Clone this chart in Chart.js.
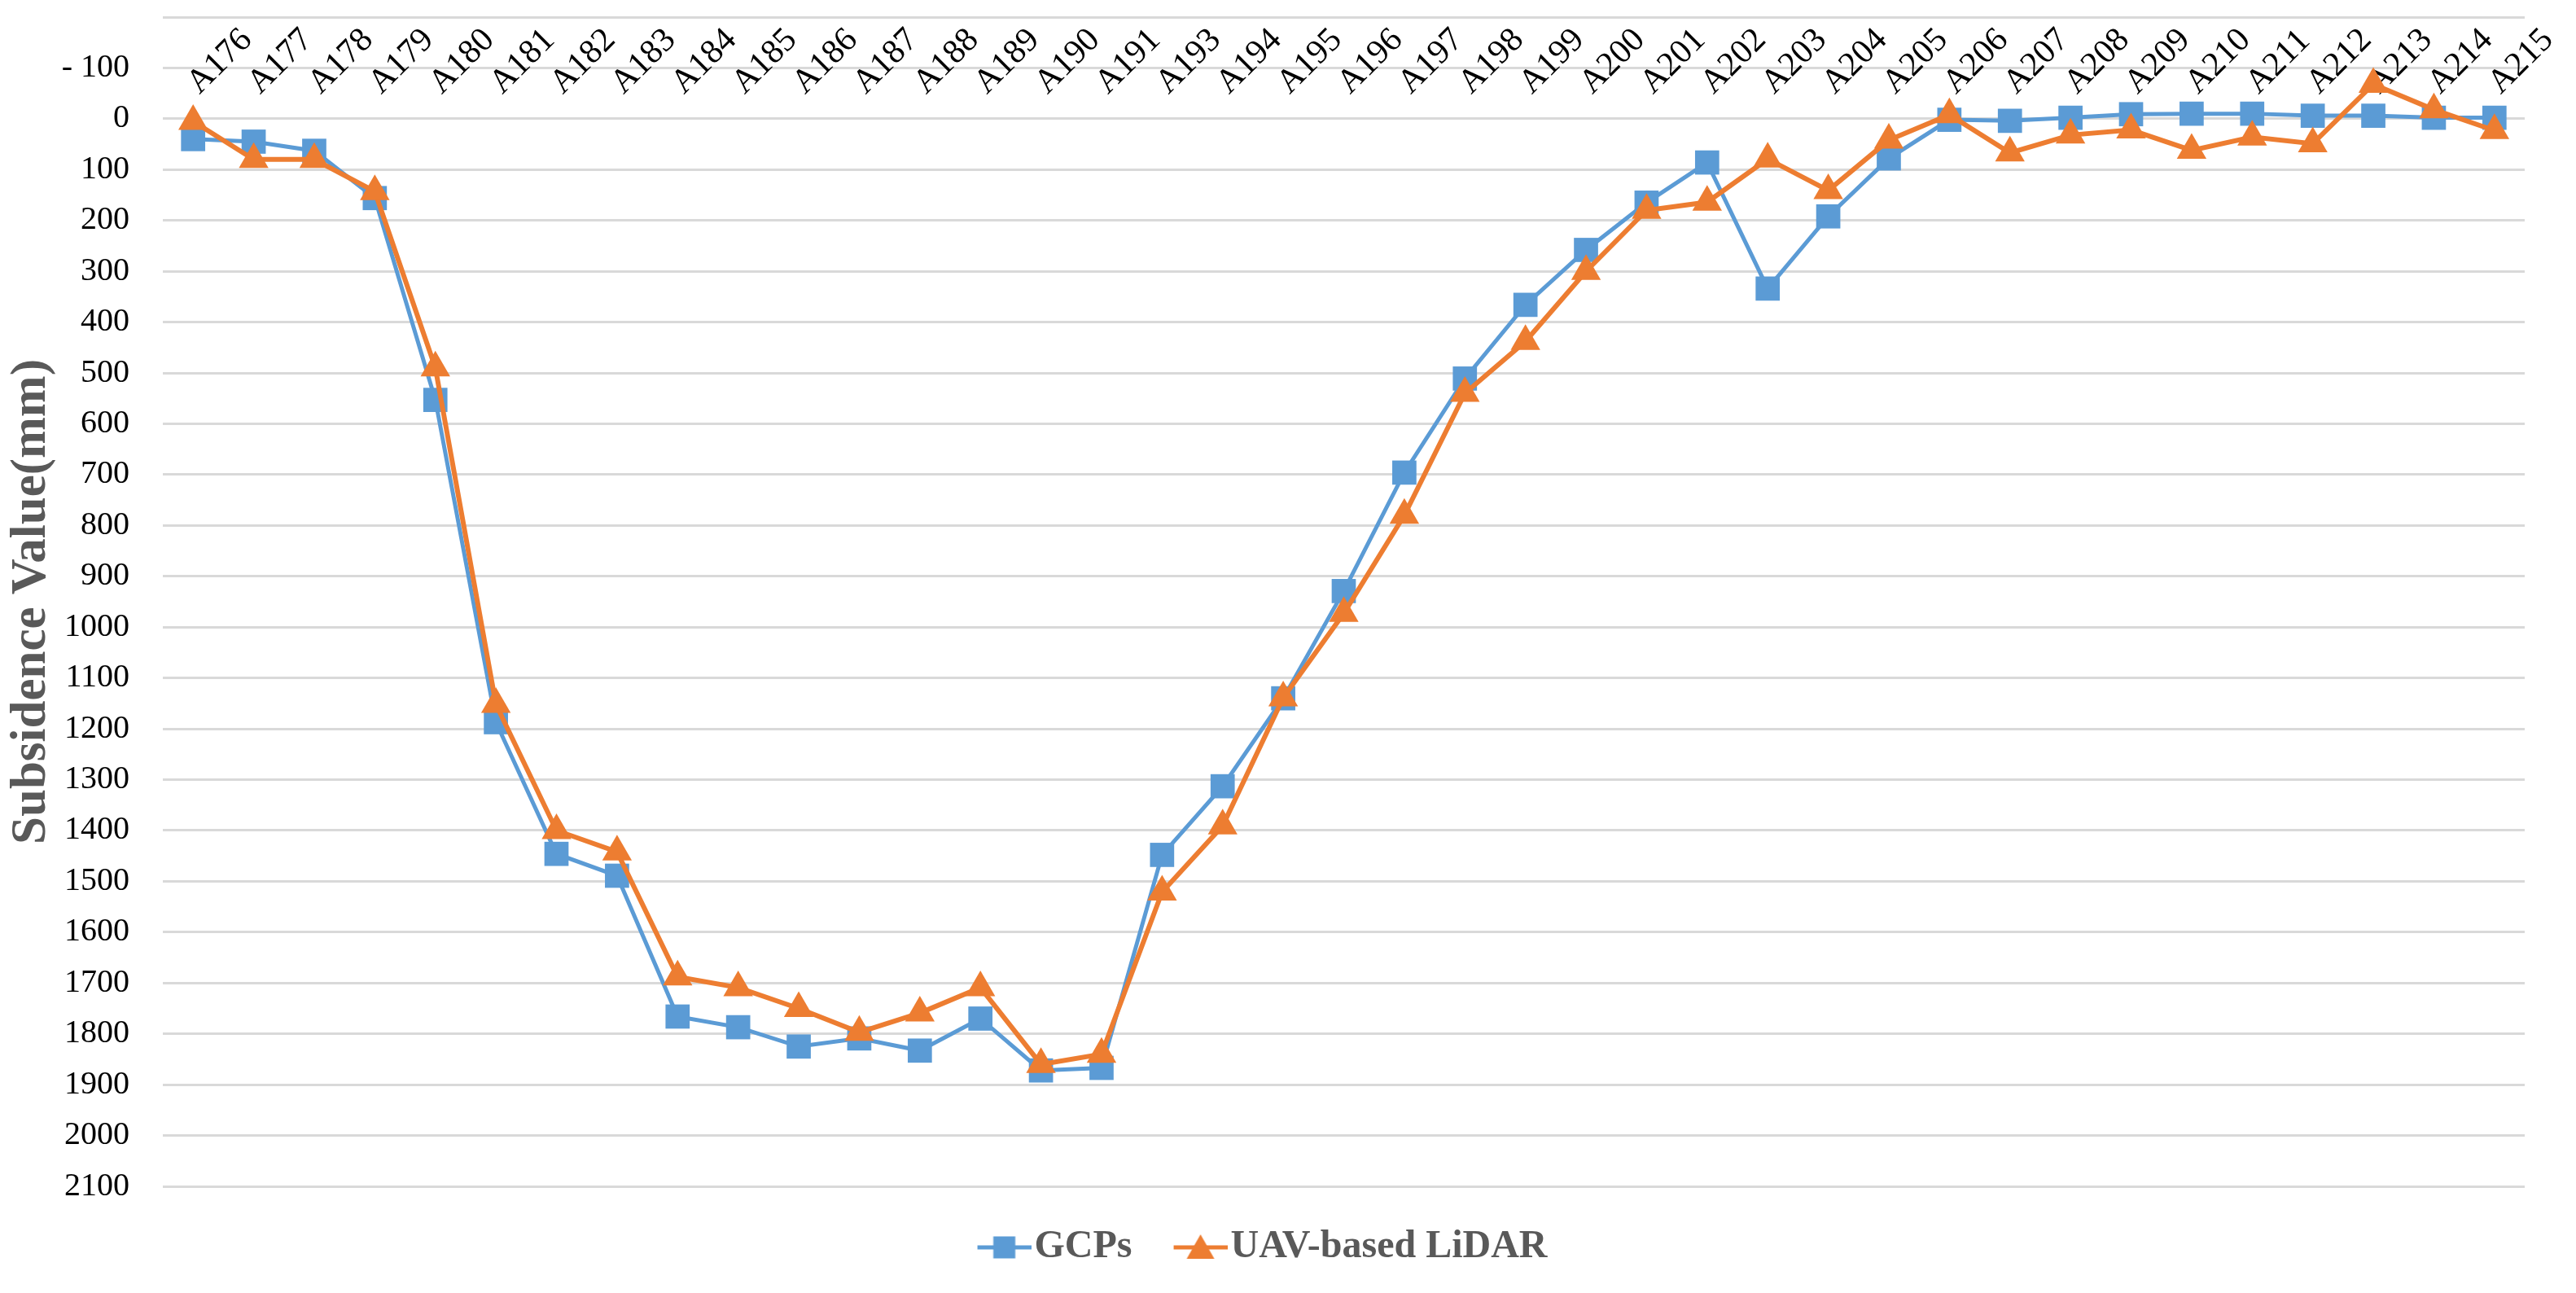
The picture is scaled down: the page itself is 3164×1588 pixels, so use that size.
<!DOCTYPE html>
<html>
<head>
<meta charset="utf-8">
<script src="https://cdn.jsdelivr.net/npm/chart.js@4.4.0/dist/chart.umd.min.js"></script>
<style>
  html, body { margin: 0; padding: 0; background: #ffffff; }
  #wrap { width: 3164px; height: 1588px; position: relative; background: #ffffff; }
</style>
</head>
<body>
<div id="wrap"><canvas id="c"></canvas></div>
<script>
// ---- data ----
const categories = [
  'A176','A177','A178','A179','A180','A181','A182','A183','A184','A185','A186','A187',
  'A188','A189','A190','A191','A193','A194','A195','A196','A197','A198','A199','A200',
  'A201','A202','A203','A204','A205','A206','A207','A208','A209','A210','A211','A212',
  'A213','A214','A215'
];
const gcpValues = [
  40, 45, 63, 156, 553, 1187, 1446, 1489, 1766, 1787, 1825, 1809,
  1833, 1770, 1872, 1867, 1448, 1313, 1140, 929, 696, 511, 366, 258,
  165, 86, 334, 192, 78, 2, 4, -2, -9, -10, -10, -6,
  -6, -2, -2
];
const lidarValues = [
  5, 80, 80, 143, 490, 1152, 1400, 1442, 1688, 1709, 1750, 1797,
  1759, 1709, 1860, 1840, 1521, 1391, 1139, 973, 780, 540, 438, 300,
  180, 164, 79, 141, 42, -8, 67, 32, 22, 62, 36, 49,
  -68, -18, 23
];
const seriesNames = ['GCPs', 'UAV-based LiDAR'];
const yMin = -200;
const yMax = 2100;
const yStep = 100;

// ---- styles ----
const BLUE = '#5B9BD5';
const ORANGE = '#ED7D31';
const SERIF = "'Liberation Serif', 'Times New Roman', serif";

function legendIcon(color, shape) {
  const W = 86, H = 40;
  const c = document.createElement('canvas');
  c.width = W; c.height = H;
  const g = c.getContext('2d');
  g.strokeStyle = color;
  g.lineWidth = 5;
  g.beginPath();
  g.moveTo(20, H / 2);
  g.lineTo(86, H / 2);
  g.stroke();
  g.fillStyle = color;
  const cx = 53, cy = H / 2;
  if (shape === 'rect') {
    g.fillRect(cx - 13.5, cy - 13.5, 27, 27);
  } else {
    g.beginPath();
    g.moveTo(cx, cy - 16);
    g.lineTo(cx + 17, cy + 14);
    g.lineTo(cx - 17, cy + 14);
    g.closePath();
    g.fill();
  }
  return c;
}
const icons = [legendIcon(BLUE, 'rect'), legendIcon(ORANGE, 'triangle')];

new Chart(document.getElementById('c'), {
  type: 'line',
  data: {
    labels: categories,
    datasets: [
      {
        label: seriesNames[0],
        data: gcpValues,
        borderColor: BLUE,
        backgroundColor: BLUE,
        borderWidth: 5,
        tension: 0,
        pointStyle: 'rect',
        pointRadius: 21,
        pointHoverRadius: 21,
        pointBorderWidth: 0,
        pointBackgroundColor: BLUE,
        order: 1
      },
      {
        label: seriesNames[1],
        data: lidarValues,
        borderColor: ORANGE,
        backgroundColor: ORANGE,
        borderWidth: 6,
        tension: 0,
        pointStyle: 'triangle',
        pointRadius: 21,
        pointHoverRadius: 21,
        pointBorderWidth: 0,
        pointBackgroundColor: ORANGE,
        order: 0
      }
    ]
  },
  options: {
    responsive: true,
    maintainAspectRatio: false,
    animation: false,
    devicePixelRatio: 1,
    layout: { padding: { left: 0, right: 63, top: 0, bottom: 22 } },
    plugins: {
      tooltip: { enabled: false },
      legend: {
        position: 'bottom',
        labels: {
          usePointStyle: true,
          pointStyleWidth: 46,
          padding: 51,
          color: '#595959',
          font: { family: SERIF, size: 48, weight: 'bold' },
          generateLabels: (chart) => chart.data.datasets.map((ds, i) => ({
            text: ds.label,
            fillStyle: ds.borderColor,
            strokeStyle: ds.borderColor,
            lineWidth: 0,
            pointStyle: icons[i],
            hidden: false,
            datasetIndex: i,
            fontColor: '#595959'
          }))
        }
      }
    },
    scales: {
      x: {
        type: 'category',
        position: 'top',
        offset: true,
        grid: { display: false },
        border: { display: false },
        ticks: {
          autoSkip: false,
          minRotation: 45,
          maxRotation: 45,
          mirror: true,
          padding: 70,
          color: '#000000',
          font: { family: SERIF, size: 42 }
        },
        afterFit: (s) => {
          s.height = 16;
          s.paddingLeft = 0;
          s.paddingRight = 0;
        }
      },
      y: {
        type: 'linear',
        reverse: true,
        min: yMin,
        max: yMax,
        grid: { color: '#D9D9D9', lineWidth: 3, drawTicks: false },
        border: { display: false },
        ticks: {
          stepSize: yStep,
          padding: 41,
          color: '#000000',
          font: { family: SERIF, size: 40 },
          callback: (v) => {
            if (v === yMin) return '';
            return v < 0 ? '- ' + Math.abs(v) : String(v);
          }
        },
        title: {
          display: true,
          text: 'Subsidence Value(mm)',
          color: '#595959',
          font: { family: SERIF, size: 61, weight: 'bold' },
          padding: { top: 3, bottom: 0 }
        },
        afterFit: (s) => { s.width = 200; s.paddingTop = 0; s.paddingBottom = 0; }
      }
    }
  }
});
</script>
</body>
</html>
